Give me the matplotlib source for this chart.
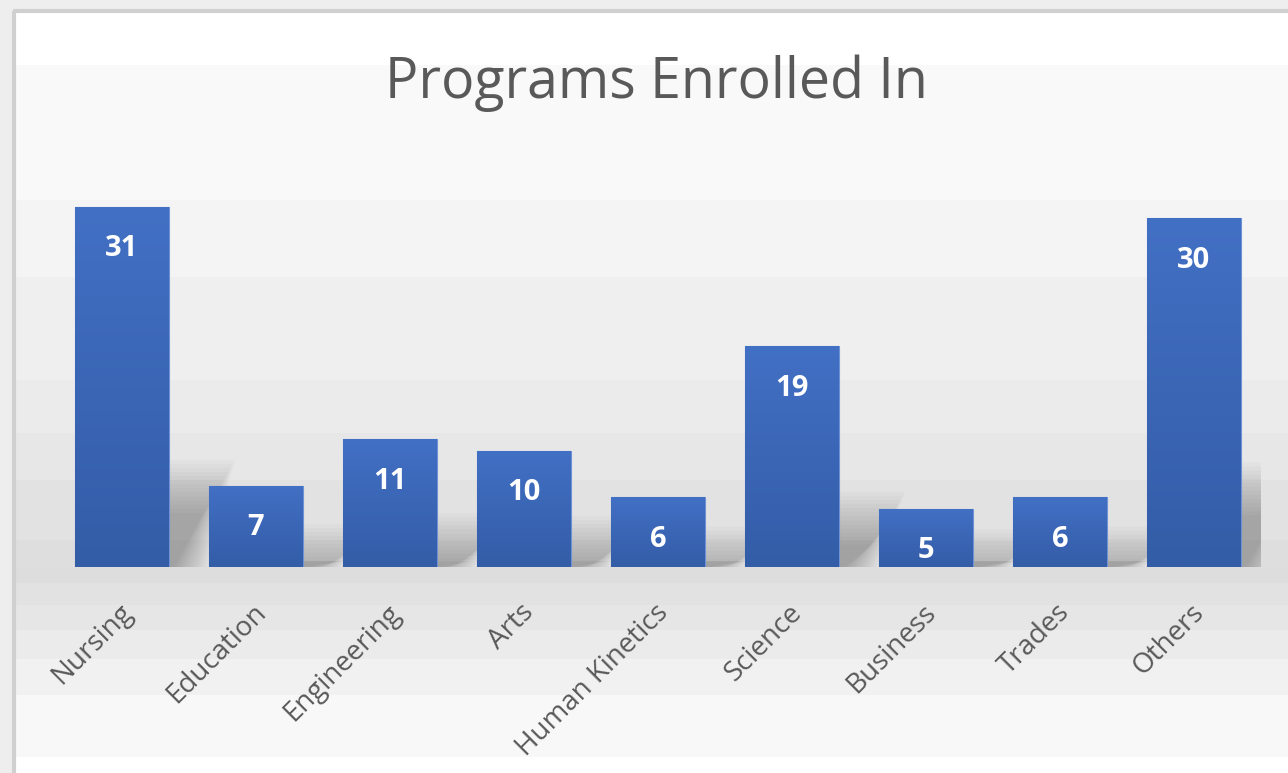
import matplotlib
matplotlib.use("Agg")
import matplotlib.pyplot as plt
import matplotlib.transforms as mtransforms
from matplotlib.patches import Rectangle, Polygon
from matplotlib.colors import LinearSegmentedColormap
import numpy as np

# data
categories = ["Nursing", "Education", "Engineering", "Arts", "Human Kinetics",
              "Science", "Business", "Trades", "Others"]
counts = [31, 7, 11, 10, 6, 19, 5, 6, 30]
title = "Programs Enrolled In"

plt.rcParams['font.family'] = ['Open Sans', 'DejaVu Sans']

W, H = 1288, 773
fig = plt.figure(figsize=(W / 100, H / 100), dpi=100)
fig.patch.set_facecolor('#eeeeee')

# background: chart frame with horizontal gray bands (pixel coords, top-down)
bg = fig.add_axes([0, 0, 1, 1], zorder=0)
bg.set_xlim(0, W)
bg.set_ylim(H, 0)
bg.axis('off')
band_edges = [12, 65, 200, 277, 380, 433, 480, 540, 567, 583, 605, 630, 659, 695, 757, 773]
band_grays = [255, 249, 244, 239, 235, 231, 226, 222, 221, 226, 230, 235, 241, 248, 255]
for y0, y1, g in zip(band_edges[:-1], band_edges[1:], band_grays):
    bg.add_patch(Rectangle((15, y0), W - 15, y1 - y0, color=(g / 255,) * 3, lw=0))
bg.plot([14, 14], [11, H], color='#d0d0d0', lw=3, solid_capstyle='butt')
bg.plot([13, W], [11, 11], color='#d0d0d0', lw=3, solid_capstyle='butt')

# main axes: baseline at y=567px, 11.62 px per unit, bar pitch 134 px
step = 134
x_left = 122 - step / 2
ax_w = step * 9
base_y = 567
px_per_unit = 11.62
ymax = 36
ax = fig.add_axes([x_left / W, (H - base_y) / H, ax_w / W, ymax * px_per_unit / H], zorder=1)
ax.patch.set_alpha(0)
ax.set_xlim(-0.5, 8.5)
ax.set_ylim(0, ymax)
for s in ax.spines.values():
    s.set_visible(False)
ax.set_yticks([])

bw = 0.70
x = np.arange(len(categories))

# soft perspective shadows behind bars (stacked translucent layers = blur)
for xi, h in zip(x, counts):
    sh = h * 0.23
    n = 14
    for k in range(n):
        g = k * 0.018
        top = sh + (k - n / 2) * 0.35
        poly = Polygon([(xi - bw / 2 + 0.3, 0),
                        (xi + bw / 2 + 0.04 + g, 0),
                        (xi + bw / 2 + 0.26 + g, max(top, 0.5)),
                        (xi - bw / 2 + 0.4, max(top, 0.5))],
                       closed=True, facecolor='black', alpha=0.018, lw=0, zorder=1)
        ax.add_patch(poly)

bars = ax.bar(x, counts, width=bw, color='#3d69b9', edgecolor='#6d93d6', lw=0.8, zorder=2)

cmap = LinearSegmentedColormap.from_list('barg', ['#345da7', '#3b66b6', '#4270c4'])
grad = np.linspace(0, 1, 256).reshape(-1, 1)
for b in bars:
    x0, w, h = b.get_x(), b.get_width(), b.get_height()
    im = ax.imshow(grad, extent=(x0, x0 + w, 0, h), origin='lower', cmap=cmap,
                   aspect='auto', zorder=2.5)
    im.set_clip_path(b)

# value labels inside top of each bar
for xi, h in zip(x, counts):
    ax.annotate(str(h), (xi, h), xytext=(0, -42), textcoords='offset pixels',
                ha='center', va='center', color='white', fontsize=21,
                fontweight='bold', zorder=4)

# category labels
ax.set_xticks(x)
ax.set_xticklabels(categories, rotation=45, ha='right', va='center',
                   rotation_mode='anchor', fontsize=20, color='#595959')
ax.tick_params(axis='x', length=0, pad=30)
shift = mtransforms.ScaledTranslation(6 / 100, 0, fig.dpi_scale_trans)
for lab in ax.get_xticklabels():
    lab.set_transform(lab.get_transform() + shift)

fig.text(656 / W, (H - 98) / H, title, ha='center', va='baseline',
         fontsize=40, color='#595959')

fig.savefig('out.png', dpi=100, facecolor=fig.get_facecolor())
